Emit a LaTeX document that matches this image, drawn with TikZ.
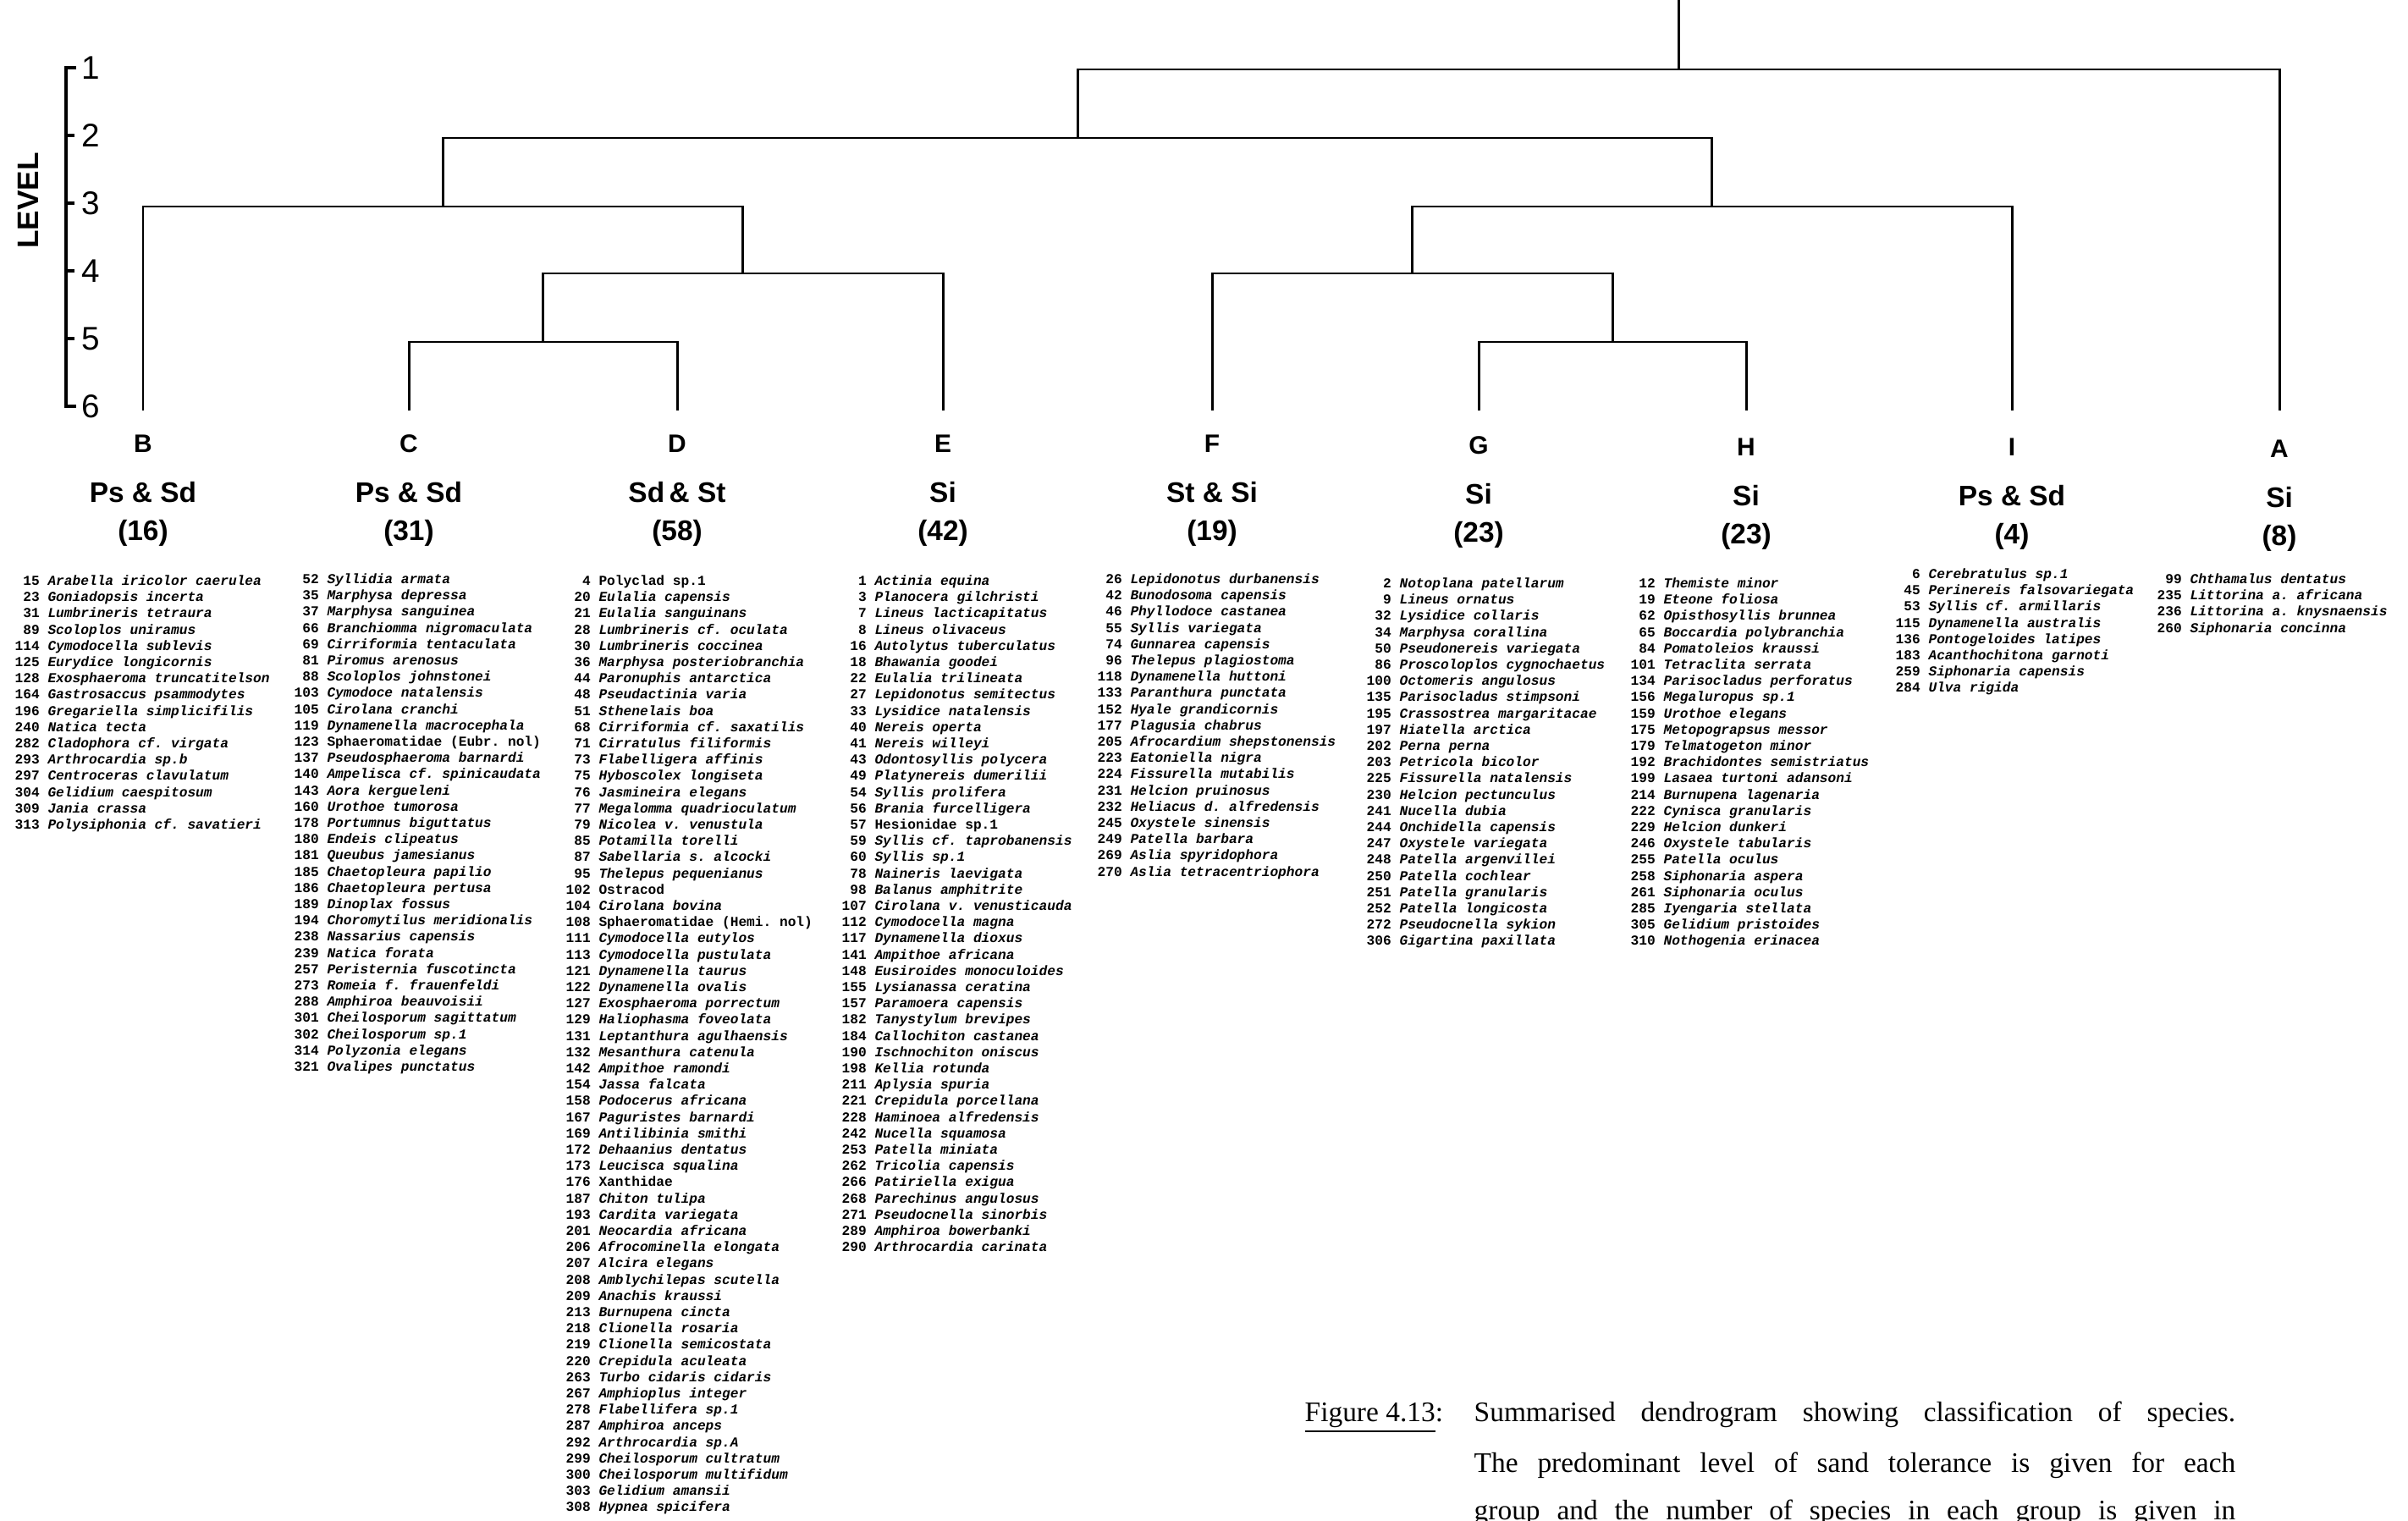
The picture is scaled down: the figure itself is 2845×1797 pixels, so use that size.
\documentclass[tikz,border=0pt]{standalone}
\usepackage{fontspec}
\setmainfont{Liberation Serif}
\setsansfont{Liberation Sans}
\setmonofont{Liberation Mono}
\usetikzlibrary{positioning,calc}

\newcommand\taxon[2]{\makebox[1.8em][r]{\upshape #1}\hspace{0.6em}\textit{#2}\\}
\newcommand\taxonup[2]{\makebox[1.8em][r]{#1}\hspace{0.6em}#2\\}

\begin{document}
\begin{tikzpicture}[x=0.01cm,y=-0.01cm]
  \tikzstyle{grp}=[font=\sffamily\bfseries\fontsize{8.5}{10}\selectfont, inner sep=0pt]
  \tikzstyle{tol}=[font=\sffamily\bfseries\fontsize{9.5}{11}\selectfont, inner sep=0pt]
  \tikzstyle{lvl}=[font=\sffamily\fontsize{11}{13}\selectfont, inner sep=0pt]
  \tikzstyle{splist}=[font=\ttfamily\bfseries\fontsize{4.6}{5.46}\selectfont, align=left, anchor=north west, inner sep=0pt]
  \tikzstyle{branch}=[line width=0.85pt]
  \tikzstyle{capt}=[font=\fontsize{9.5}{11}\selectfont, anchor=base west, inner sep=0pt]
  \useasboundingbox (0,0) rectangle (2845,1797);

  \foreach \l in {1,...,6} \node[lvl] (Level \l) at (107,{80*\l}) {\l};
  \draw[line width=1pt] (90,80) -- (78,80) -- (78,480) -- (90,480);
  \foreach \l in {2,...,5} \draw[line width=1pt] (78,{80*\l}) -- (88,{80*\l});
  \node[lvl, font=\sffamily\bfseries\fontsize{10}{12}\selectfont, rotate=90] (Level Label) at (33,237) {LEVEL};

  \foreach \g/\x/\dy/\tol/\n in {B/169/0/Ps \& Sd/16, C/483/0/Ps \& Sd/31,
      D/800/0/Sd\,\& St/58, E/1114/0/Si/42, F/1432/0/St \& Si/19,
      G/1747/2/Si/23, H/2063/4/Si/23, I/2377/4/Ps \& Sd/4, A/2693/6/Si/8}
  {
    \node[grp] (\g) at (\x,524+\dy) {\g};
    \node[tol] (Tol \g) at (\x,582+\dy) {\tol};
    \node[tol] (Count \g) at (\x,630+\dy) {(\n)};
    \coordinate (Leaf \g) at (\x,485);
  }

  \coordinate (CD) at (641.5,404);
  \coordinate (CDE) at (877.75,323);
  \coordinate (BCDE) at (523.4,244);
  \coordinate (GH) at (1905,404);
  \coordinate (FGH) at (1668.5,323);
  \coordinate (FGHI) at (2022.75,244);
  \coordinate (BI) at (1273,163);
  \coordinate (Root) at (1983,82);
  \coordinate (Top) at (1983,0);
  \draw[branch] (Leaf C) |- (CD) -| (Leaf D);
  \draw[branch] (CD) |- (CDE) -| (Leaf E);
  \draw[branch] (Leaf B) |- (BCDE) -| (CDE);
  \draw[branch] (Leaf G) |- (GH) -| (Leaf H);
  \draw[branch] (Leaf F) |- (FGH) -| (GH);
  \draw[branch] (FGH) |- (FGHI) -| (Leaf I);
  \draw[branch] (BCDE) |- (BI) -| (FGHI);
  \draw[branch] (BI) |- (Root) -| (Leaf A);
  \draw[branch] (Root) -- (Top);

  \node[splist] (List B) at (17,679) {\taxon{15}{Arabella iricolor caerulea}
    \taxon{23}{Goniadopsis incerta}
    \taxon{31}{Lumbrineris tetraura}
    \taxon{89}{Scoloplos uniramus}
    \taxon{114}{Cymodocella sublevis}
    \taxon{125}{Eurydice longicornis}
    \taxon{128}{Exosphaeroma truncatitelson}
    \taxon{164}{Gastrosaccus psammodytes}
    \taxon{196}{Gregariella simplicifilis}
    \taxon{240}{Natica tecta}
    \taxon{282}{Cladophora cf. virgata}
    \taxon{293}{Arthrocardia sp.b}
    \taxon{297}{Centroceras clavulatum}
    \taxon{304}{Gelidium caespitosum}
    \taxon{309}{Jania crassa}
    \taxon{313}{Polysiphonia cf. savatieri}};

  \node[splist] (List C) at (347,677) {\taxon{52}{Syllidia armata}
    \taxon{35}{Marphysa depressa}
    \taxon{37}{Marphysa sanguinea}
    \taxon{66}{Branchiomma nigromaculata}
    \taxon{69}{Cirriformia tentaculata}
    \taxon{81}{Piromus arenosus}
    \taxon{88}{Scoloplos johnstonei}
    \taxon{103}{Cymodoce natalensis}
    \taxon{105}{Cirolana cranchi}
    \taxon{119}{Dynamenella macrocephala}
    \taxonup{123}{Sphaeromatidae (Eubr. nol)}
    \taxon{137}{Pseudosphaeroma barnardi}
    \taxon{140}{Ampelisca cf. spinicaudata}
    \taxon{143}{Aora kergueleni}
    \taxon{160}{Urothoe tumorosa}
    \taxon{178}{Portumnus biguttatus}
    \taxon{180}{Endeis clipeatus}
    \taxon{181}{Queubus jamesianus}
    \taxon{185}{Chaetopleura papilio}
    \taxon{186}{Chaetopleura pertusa}
    \taxon{189}{Dinoplax fossus}
    \taxon{194}{Choromytilus meridionalis}
    \taxon{238}{Nassarius capensis}
    \taxon{239}{Natica forata}
    \taxon{257}{Peristernia fuscotincta}
    \taxon{273}{Romeia f. frauenfeldi}
    \taxon{288}{Amphiroa beauvoisii}
    \taxon{301}{Cheilosporum sagittatum}
    \taxon{302}{Cheilosporum sp.1}
    \taxon{314}{Polyzonia elegans}
    \taxon{321}{Ovalipes punctatus}};

  \node[splist] (List D) at (668,679) {\taxonup{4}{Polyclad sp.1}
    \taxon{20}{Eulalia capensis}
    \taxon{21}{Eulalia sanguinans}
    \taxon{28}{Lumbrineris cf. oculata}
    \taxon{30}{Lumbrineris coccinea}
    \taxon{36}{Marphysa posteriobranchia}
    \taxon{44}{Paronuphis antarctica}
    \taxon{48}{Pseudactinia varia}
    \taxon{51}{Sthenelais boa}
    \taxon{68}{Cirriformia cf. saxatilis}
    \taxon{71}{Cirratulus filiformis}
    \taxon{73}{Flabelligera affinis}
    \taxon{75}{Hyboscolex longiseta}
    \taxon{76}{Jasmineira elegans}
    \taxon{77}{Megalomma quadrioculatum}
    \taxon{79}{Nicolea v. venustula}
    \taxon{85}{Potamilla torelli}
    \taxon{87}{Sabellaria s. alcocki}
    \taxon{95}{Thelepus pequenianus}
    \taxonup{102}{Ostracod}
    \taxon{104}{Cirolana bovina}
    \taxonup{108}{Sphaeromatidae (Hemi. nol)}
    \taxon{111}{Cymodocella eutylos}
    \taxon{113}{Cymodocella pustulata}
    \taxon{121}{Dynamenella taurus}
    \taxon{122}{Dynamenella ovalis}
    \taxon{127}{Exosphaeroma porrectum}
    \taxon{129}{Haliophasma foveolata}
    \taxon{131}{Leptanthura agulhaensis}
    \taxon{132}{Mesanthura catenula}
    \taxon{142}{Ampithoe ramondi}
    \taxon{154}{Jassa falcata}
    \taxon{158}{Podocerus africana}
    \taxon{167}{Paguristes barnardi}
    \taxon{169}{Antilibinia smithi}
    \taxon{172}{Dehaanius dentatus}
    \taxon{173}{Leucisca squalina}
    \taxonup{176}{Xanthidae}
    \taxon{187}{Chiton tulipa}
    \taxon{193}{Cardita variegata}
    \taxon{201}{Neocardia africana}
    \taxon{206}{Afrocominella elongata}
    \taxon{207}{Alcira elegans}
    \taxon{208}{Amblychilepas scutella}
    \taxon{209}{Anachis kraussi}
    \taxon{213}{Burnupena cincta}
    \taxon{218}{Clionella rosaria}
    \taxon{219}{Clionella semicostata}
    \taxon{220}{Crepidula aculeata}
    \taxon{263}{Turbo cidaris cidaris}
    \taxon{267}{Amphioplus integer}
    \taxon{278}{Flabellifera sp.1}
    \taxon{287}{Amphiroa anceps}
    \taxon{292}{Arthrocardia sp.A}
    \taxon{299}{Cheilosporum cultratum}
    \taxon{300}{Cheilosporum multifidum}
    \taxon{303}{Gelidium amansii}
    \taxon{308}{Hypnea spicifera}};

  \node[splist] (List E) at (994,679) {\taxon{1}{Actinia equina}
    \taxon{3}{Planocera gilchristi}
    \taxon{7}{Lineus lacticapitatus}
    \taxon{8}{Lineus olivaceus}
    \taxon{16}{Autolytus tuberculatus}
    \taxon{18}{Bhawania goodei}
    \taxon{22}{Eulalia trilineata}
    \taxon{27}{Lepidonotus semitectus}
    \taxon{33}{Lysidice natalensis}
    \taxon{40}{Nereis operta}
    \taxon{41}{Nereis willeyi}
    \taxon{43}{Odontosyllis polycera}
    \taxon{49}{Platynereis dumerilii}
    \taxon{54}{Syllis prolifera}
    \taxon{56}{Brania furcelligera}
    \taxonup{57}{Hesionidae sp.1}
    \taxon{59}{Syllis cf. taprobanensis}
    \taxon{60}{Syllis sp.1}
    \taxon{78}{Naineris laevigata}
    \taxon{98}{Balanus amphitrite}
    \taxon{107}{Cirolana v. venusticauda}
    \taxon{112}{Cymodocella magna}
    \taxon{117}{Dynamenella dioxus}
    \taxon{141}{Ampithoe africana}
    \taxon{148}{Eusiroides monoculoides}
    \taxon{155}{Lysianassa ceratina}
    \taxon{157}{Paramoera capensis}
    \taxon{182}{Tanystylum brevipes}
    \taxon{184}{Callochiton castanea}
    \taxon{190}{Ischnochiton oniscus}
    \taxon{198}{Kellia rotunda}
    \taxon{211}{Aplysia spuria}
    \taxon{221}{Crepidula porcellana}
    \taxon{228}{Haminoea alfredensis}
    \taxon{242}{Nucella squamosa}
    \taxon{253}{Patella miniata}
    \taxon{262}{Tricolia capensis}
    \taxon{266}{Patiriella exigua}
    \taxon{268}{Parechinus angulosus}
    \taxon{271}{Pseudocnella sinorbis}
    \taxon{289}{Amphiroa bowerbanki}
    \taxon{290}{Arthrocardia carinata}};

  \node[splist] (List F) at (1296,677) {\taxon{26}{Lepidonotus durbanensis}
    \taxon{42}{Bunodosoma capensis}
    \taxon{46}{Phyllodoce castanea}
    \taxon{55}{Syllis variegata}
    \taxon{74}{Gunnarea capensis}
    \taxon{96}{Thelepus plagiostoma}
    \taxon{118}{Dynamenella huttoni}
    \taxon{133}{Paranthura punctata}
    \taxon{152}{Hyale grandicornis}
    \taxon{177}{Plagusia chabrus}
    \taxon{205}{Afrocardium shepstonensis}
    \taxon{223}{Eatoniella nigra}
    \taxon{224}{Fissurella mutabilis}
    \taxon{231}{Helcion pruinosus}
    \taxon{232}{Heliacus d. alfredensis}
    \taxon{245}{Oxystele sinensis}
    \taxon{249}{Patella barbara}
    \taxon{269}{Aslia spyridophora}
    \taxon{270}{Aslia tetracentriophora}};

  \node[splist] (List G) at (1614,682) {\taxon{2}{Notoplana patellarum}
    \taxon{9}{Lineus ornatus}
    \taxon{32}{Lysidice collaris}
    \taxon{34}{Marphysa corallina}
    \taxon{50}{Pseudonereis variegata}
    \taxon{86}{Proscoloplos cygnochaetus}
    \taxon{100}{Octomeris angulosus}
    \taxon{135}{Parisocladus stimpsoni}
    \taxon{195}{Crassostrea margaritacae}
    \taxon{197}{Hiatella arctica}
    \taxon{202}{Perna perna}
    \taxon{203}{Petricola bicolor}
    \taxon{225}{Fissurella natalensis}
    \taxon{230}{Helcion pectunculus}
    \taxon{241}{Nucella dubia}
    \taxon{244}{Onchidella capensis}
    \taxon{247}{Oxystele variegata}
    \taxon{248}{Patella argenvillei}
    \taxon{250}{Patella cochlear}
    \taxon{251}{Patella granularis}
    \taxon{252}{Patella longicosta}
    \taxon{272}{Pseudocnella sykion}
    \taxon{306}{Gigartina paxillata}};

  \node[splist] (List H) at (1926,682) {\taxon{12}{Themiste minor}
    \taxon{19}{Eteone foliosa}
    \taxon{62}{Opisthosyllis brunnea}
    \taxon{65}{Boccardia polybranchia}
    \taxon{84}{Pomatoleios kraussi}
    \taxon{101}{Tetraclita serrata}
    \taxon{134}{Parisocladus perforatus}
    \taxon{156}{Megaluropus sp.1}
    \taxon{159}{Urothoe elegans}
    \taxon{175}{Metopograpsus messor}
    \taxon{179}{Telmatogeton minor}
    \taxon{192}{Brachidontes semistriatus}
    \taxon{199}{Lasaea turtoni adansoni}
    \taxon{214}{Burnupena lagenaria}
    \taxon{222}{Cynisca granularis}
    \taxon{229}{Helcion dunkeri}
    \taxon{246}{Oxystele tabularis}
    \taxon{255}{Patella oculus}
    \taxon{258}{Siphonaria aspera}
    \taxon{261}{Siphonaria oculus}
    \taxon{285}{Iyengaria stellata}
    \taxon{305}{Gelidium pristoides}
    \taxon{310}{Nothogenia erinacea}};

  \node[splist] (List I) at (2239,671) {\taxon{6}{Cerebratulus sp.1}
    \taxon{45}{Perinereis falsovariegata}
    \taxon{53}{Syllis cf. armillaris}
    \taxon{115}{Dynamenella australis}
    \taxon{136}{Pontogeloides latipes}
    \taxon{183}{Acanthochitona garnoti}
    \taxon{259}{Siphonaria capensis}
    \taxon{284}{Ulva rigida}};

  \node[splist] (List A) at (2548,677) {\taxon{99}{Chthamalus dentatus}
    \taxon{235}{Littorina a. africana}
    \taxon{236}{Littorina a. knysnaensis}
    \taxon{260}{Siphonaria concinna}};

  \node[capt] (Fig Label) at (1541,1679) {\underline{Figure 4.13}:};
  \node[capt] (Caption 1) at (1741,1679) {\makebox[255.8pt][s]{Summarised dendrogram showing classification of species.}};
  \node[capt] (Caption 2) at (1741,1739) {\makebox[255.8pt][s]{The predominant level of sand tolerance is given for each}};
  \node[capt] (Caption 3) at (1741,1795) {\makebox[255.8pt][s]{group and the number of species in each group is given in}};
\end{tikzpicture}
\end{document}
